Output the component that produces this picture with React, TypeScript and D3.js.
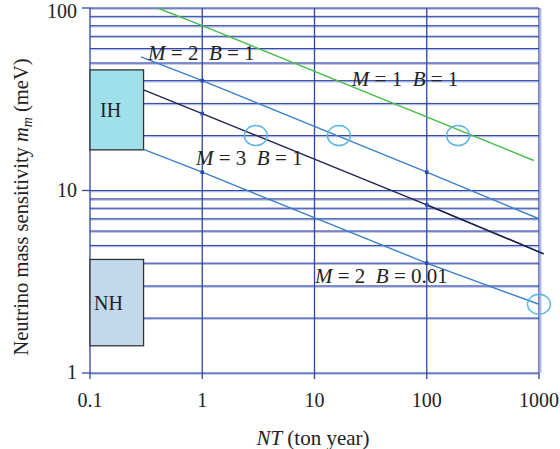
import { useEffect, useRef } from 'react';
import * as d3 from 'd3';

// series: [NT (ton year), sensitivity (meV)]
const m1b1: [number, number][] = [[0.4, 100], [1, 80], [900, 14.6]];
const m2b1: [number, number][] = [[0.285, 54], [1, 40], [100, 12.6], [1000, 7.0]];
const m3b1: [number, number][] = [[0.3, 35.6], [1, 26.4], [100, 8.35], [1100, 4.5]];
const m2b001: [number, number][] = [[0.3, 16.8], [1, 12.6], [100, 4.0], [1000, 2.38]];

const dots: [number, number][] = [[1, 40], [100, 12.6], [1, 26.4], [100, 8.35], [1, 12.6], [100, 4.0]];
const circles: [number, number][] = [[3, 20], [16.5, 20], [190, 20], [1000, 2.38]];

const xTicks = [0.1, 1, 10, 100, 1000];
const xTickLabels = ['0.1', '1', '10', '100', '1000'];
const yTicks = [1, 10, 100];
const yTickLabels = ['1', '10', '100'];

// hierarchy boxes
const boxIH = { name: 'IH', x0: 0.1, x1: 0.3, y0: 16.7, y1: 45.8 };
const boxNH = { name: 'NH', x0: 0.1, x1: 0.3, y0: 1.41, y1: 4.19 };

const labels = [
  { m: '2', b: '1', nt: 0.329, v: 52 },
  { m: '1', b: '1', nt: 21.5, v: 37.4 },
  { m: '3', b: '1', nt: 0.879, v: 13.8 },
  { m: '2', b: '0.01', nt: 10.1, v: 3.12 },
];

const App = () => {
  const svgRef = useRef<any>(null);

  useEffect(() => {
    const svg = d3.select(svgRef.current);
    svg.selectAll('*').remove();

    const left = 90, right = 539, top = 8, bottom = 373;
    const x = d3.scaleLog().domain([0.1, 1000]).range([left, right]);
    const y = d3.scaleLog().domain([1, 100]).range([bottom, top]);
    const font = '"Liberation Serif", "DejaVu Serif", serif';

    svg.append('defs').append('clipPath').attr('id', 'plotclip')
      .append('rect').attr('x', left).attr('y', top).attr('width', right - left + 6).attr('height', bottom - top);

    // horizontal grid at every minor log tick
    const hGrid: number[] = [];
    for (let d = 1; d <= 10; d *= 10) for (let k = 1; k <= 9; k++) hGrid.push(d * k);
    hGrid.push(100);
    svg.append('g').selectAll('line').data(hGrid).join('line')
      .attr('x1', left).attr('x2', right)
      .attr('y1', (d) => y(d) + 0.8).attr('y2', (d) => y(d) + 0.8)
      .attr('stroke', '#b4bde2').attr('stroke-width', 2);
    svg.append('g').selectAll('line').data(hGrid).join('line')
      .attr('x1', left).attr('x2', right)
      .attr('y1', (d) => y(d)).attr('y2', (d) => y(d))
      .attr('stroke', '#3146a8').attr('stroke-width', 1);

    // vertical grid at decades
    svg.append('g').selectAll('line').data(xTicks).join('line')
      .attr('x1', (d) => x(d)).attr('x2', (d) => x(d))
      .attr('y1', top).attr('y2', bottom + 6)
      .attr('stroke', '#2f44a8').attr('stroke-width', 1.3);
    svg.append('line').attr('x1', right + 1.5).attr('x2', right + 1.5).attr('y1', top).attr('y2', bottom)
      .attr('stroke', '#b4bde2').attr('stroke-width', 2);

    // y tick marks
    svg.append('g').selectAll('line').data(yTicks).join('line')
      .attr('x1', left - 8).attr('x2', left)
      .attr('y1', (d) => y(d)).attr('y2', (d) => y(d))
      .attr('stroke', '#3146a8').attr('stroke-width', 1.3);

    // tick labels
    svg.append('g').selectAll('text').data(yTicks).join('text')
      .attr('x', left - 13).attr('y', (d) => Math.max(y(d) + 6, 18))
      .attr('text-anchor', 'end').attr('font-family', font).attr('font-size', 20).attr('fill', '#222')
      .text((d, i) => yTickLabels[i]);
    svg.append('g').selectAll('text').data(xTicks).join('text')
      .attr('x', (d) => x(d)).attr('y', 407)
      .attr('text-anchor', 'middle').attr('font-family', font).attr('font-size', 20).attr('fill', '#222')
      .text((d, i) => xTickLabels[i]);

    // boxes
    [boxIH, boxNH].forEach((b, i) => {
      svg.append('rect')
        .attr('x', x(b.x0)).attr('y', y(b.y1))
        .attr('width', x(b.x1) - x(b.x0)).attr('height', y(b.y0) - y(b.y1))
        .attr('fill', i === 0 ? '#a0e0ea' : '#c2d9ec')
        .attr('stroke', '#333').attr('stroke-width', 1.3);
      svg.append('text')
        .attr('x', i === 0 ? x(b.x0) + 10 : x(b.x0) + 4)
        .attr('y', y(Math.sqrt(b.y0 * b.y1)) + 7)
        .attr('font-family', font).attr('font-size', 20).attr('fill', '#222')
        .text(b.name);
    });

    // lines
    const line = d3.line<[number, number]>().x((d) => x(d[0])).y((d) => y(d[1]));
    const plot = svg.append('g').attr('clip-path', 'url(#plotclip)');
    const series: [[number, number][], string][] = [
      [m1b1, '#43bf46'], [m2b1, '#3a80cf'], [m3b1, '#1f2452'], [m2b001, '#3a80cf'],
    ];
    series.forEach(([d, c]) => {
      plot.append('path').attr('d', line(d)).attr('fill', 'none')
        .attr('stroke', c).attr('stroke-width', 1.4);
    });
    svg.append('path').attr('d', line(m3b1.slice(2))).attr('fill', 'none')
      .attr('stroke', '#1f2452').attr('stroke-width', 1.4);

    // markers
    svg.append('g').selectAll('rect').data(dots).join('rect')
      .attr('x', (d) => x(d[0]) - 1.8).attr('y', (d) => y(d[1]) - 1.8)
      .attr('width', 3.6).attr('height', 3.6).attr('fill', '#2a48b0');

    svg.append('g').selectAll('ellipse').data(circles).join('ellipse')
      .attr('cx', (d) => x(d[0])).attr('cy', (d) => y(d[1]))
      .attr('rx', 11.5).attr('ry', 10)
      .attr('fill', 'none').attr('stroke', '#5cb6e4').attr('stroke-width', 1.4);

    // series labels
    labels.forEach((l) => {
      const t = svg.append('text')
        .attr('x', x(l.nt)).attr('y', y(l.v))
        .attr('font-family', font).attr('font-size', 21).attr('fill', '#222')
        .style('white-space', 'pre');
      t.append('tspan').attr('font-style', 'italic').text('M');
      t.append('tspan').text(` = ${l.m}  `);
      t.append('tspan').attr('font-style', 'italic').text('B');
      t.append('tspan').text(` = ${l.b}`);
    });

    // axis titles
    const xt = svg.append('text').attr('x', 313).attr('y', 445)
      .attr('text-anchor', 'middle').attr('font-family', font).attr('font-size', 21).attr('fill', '#222');
    xt.append('tspan').attr('font-style', 'italic').text('NT');
    xt.append('tspan').text(' (ton year)');

    const yt = svg.append('text').attr('transform', 'translate(28,207) rotate(-90)')
      .attr('text-anchor', 'middle').attr('font-family', font).attr('font-size', 20.5).attr('fill', '#222');
    yt.append('tspan').text('Neutrino mass sensitivity ');
    yt.append('tspan').attr('font-style', 'italic').text('m');
    yt.append('tspan').attr('font-style', 'italic').attr('font-size', 14).attr('dy', 4).text('m');
    yt.append('tspan').attr('dy', -4).text(' (meV)');
  }, []);

  return (
    <div style={{ position: 'absolute', left: 0, top: 0 }}>
      <svg ref={svgRef} width={560} height={449} style={{ display: 'block', background: '#fff' }} />
    </div>
  );
};

export default App;
